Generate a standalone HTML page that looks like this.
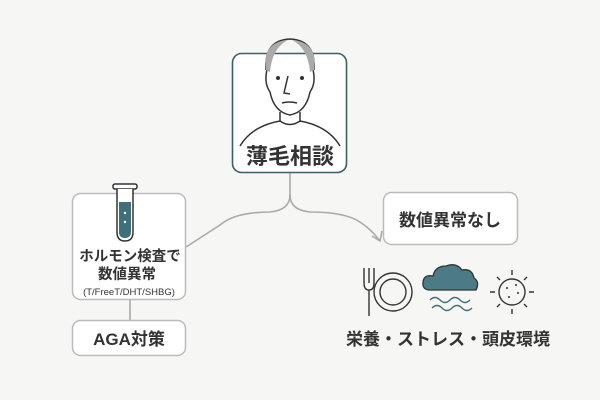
<!DOCTYPE html>
<html><head><meta charset="utf-8"><style>
body{margin:0;width:600px;height:400px;background:#f6f6f5;overflow:hidden;font-family:"Liberation Sans","Noto Sans CJK JP",sans-serif;color:#333}
</style></head><body>
<svg width="600" height="400" viewBox="0 0 600 400" xmlns="http://www.w3.org/2000/svg" style="position:absolute;left:0;top:0">
<g fill="none" stroke="#aaa" stroke-width="1.6">
<path d="M290 172 V195 Q290 210 270 212 Q235 212 220 225 L186 247"/>
<path d="M290 195 Q290 210 310 212 Q345 212 360 222 Q372 230 379 240"/>
<path d="M372 236 L380 241 L382 231"/>
<path d="M130 300 V320"/>
</g>
<rect x="232.5" y="53.5" width="114" height="119" rx="9" fill="#fff" stroke="#3d5f68" stroke-width="1.6"/>
<g fill="none" stroke="#333" stroke-width="1.5">
<path d="M266 70 Q264 40 290 39 Q316 40 314 70"/>
<path d="M268 66 Q263 82 270 92 Q274 112 290 115 Q306 112 310 92 Q317 82 312 66"/>
<path d="M280 112 V122 M300 112 V122"/>
<path d="M240 146 Q252 126 280 121 Q290 128 300 121 Q328 126 340 146"/>
<path d="M288 76 L284 93 L290 94"/>
<path d="M282 103 Q289 101 297 103"/>
</g>
<path d="M266 70 Q262 42 288 40 Q272 48 270 72 Z M314 70 Q318 42 292 40 Q308 48 310 72 Z" fill="#aaa"/>
<circle cx="278" cy="78" r="2" fill="#333"/><circle cx="302" cy="78" r="2" fill="#333"/>
<text x="290" y="164" font-size="22" font-weight="bold" text-anchor="middle" fill="#333">薄毛相談</text>
<rect x="72.5" y="193.5" width="113" height="106" rx="8" fill="#fff" stroke="#bbb" stroke-width="1.5"/>
<rect x="113" y="184" width="24" height="5" rx="2" fill="#fff" stroke="#333" stroke-width="1.5"/>
<path d="M117 189 V232 Q117 241 125 241 Q133 241 133 232 V189" fill="#fff" stroke="#333" stroke-width="1.5"/>
<path d="M119 202 H131 V232 Q131 238 125 238 Q119 238 119 232 Z" fill="#3f6f79"/>
<circle cx="125" cy="213" r="1.2" fill="#fff"/><circle cx="125" cy="222" r="1.2" fill="#fff"/>
<text x="130" y="261" font-size="14.5" font-weight="bold" text-anchor="middle" fill="#333">ホルモン検査で</text>
<text x="127" y="279" font-size="14.5" font-weight="bold" text-anchor="middle" fill="#333">数値異常</text>
<text x="129" y="295" font-size="9.5" text-anchor="middle" fill="#333">(T/FreeT/DHT/SHBG)</text>
<rect x="72.5" y="320.5" width="113" height="35" rx="8" fill="#fff" stroke="#bbb" stroke-width="1.5"/>
<text x="129" y="345" font-size="17" font-weight="bold" text-anchor="middle" fill="#333">AGA対策</text>
<rect x="383.5" y="192.5" width="134" height="52" rx="8" fill="#fff" stroke="#bbb" stroke-width="1.5"/>
<text x="450" y="226" font-size="17" font-weight="bold" text-anchor="middle" fill="#333">数値異常なし</text>
<g fill="none" stroke="#333" stroke-width="1.4">
<path d="M364 268 V283 Q364 290 369 290 Q374 290 374 283 V268 M369 268 V283 M369 290 V316"/>
<circle cx="393" cy="292" r="19"/><circle cx="393" cy="292" r="13"/>
<path d="M430 300 q5 -5 10 0 t10 0 t10 0 t10 0 M432 308 q5 -5 10 0 t10 0 t10 0 t10 0" stroke="#3f6f79"/>
<circle cx="512" cy="292" r="13"/>
<path d="M512 270 v5 M512 309 v5 M490 292 h5 M529 292 h5 M497 277 l3 3 M524 304 l3 3 M527 277 l-3 3 M497 307 l3 -3"/>
</g>
<path d="M430 290 Q422 290 423 282 Q424 274 433 276 Q435 266 446 266 Q456 262 462 270 Q472 268 474 278 Q480 282 476 290 Z" fill="#4c7a85" stroke="#333" stroke-width="1.3"/>
<circle cx="507" cy="288" r="1" fill="#333"/><circle cx="516" cy="285" r="1" fill="#333"/><circle cx="509" cy="297" r="1" fill="#333"/><circle cx="518" cy="293" r="1" fill="#333"/>
<text x="448" y="345" font-size="17" font-weight="bold" text-anchor="middle" fill="#333">栄養・ストレス・頭皮環境</text>
</svg>
</body></html>
